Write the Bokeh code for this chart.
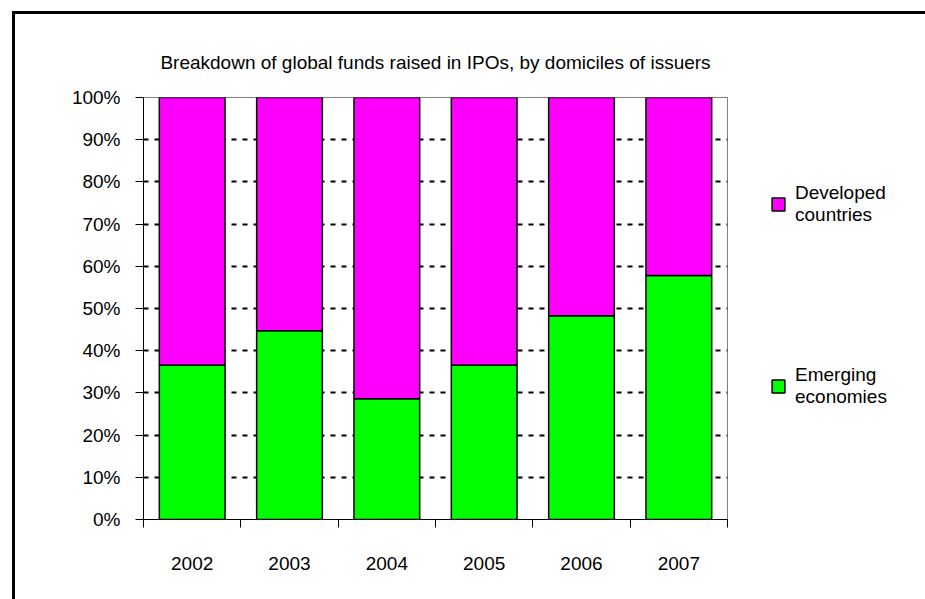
from bokeh.plotting import figure
from bokeh.models import (ColumnDataSource, FixedTicker, NumeralTickFormatter,
                          Legend, LegendItem, Range1d)
from bokeh.embed import file_html
from bokeh.resources import INLINE

# Share of global IPO funds raised, by domicile of issuer
years = ["2002", "2003", "2004", "2005", "2006", "2007"]
emerging = [0.366, 0.447, 0.286, 0.366, 0.483, 0.578]
developed = [0.634, 0.553, 0.714, 0.634, 0.517, 0.422]
yticks = [0.0, 0.1, 0.2, 0.3, 0.4, 0.5, 0.6, 0.7, 0.8, 0.9, 1.0]

FONT = "Liberation Sans"
FSIZE = "19px"

centers = [i + 0.5 for i in range(len(years))]
bounds = list(range(len(years) + 1))

src = ColumnDataSource(data=dict(x=centers, year=years,
                                 emerging=emerging, developed=developed))

# the page frame line sits on the top and left edges of the plot element
p = figure(frame_width=584, frame_height=422,
           x_range=Range1d(0, len(years)), y_range=Range1d(0, 1),
           output_backend="svg", toolbar_location=None,
           min_border_left=128, min_border_right=170,
           min_border_top=83, min_border_bottom=80,
           background_fill_color="white", border_fill_color="white",
           styles={"margin-left": "12px", "margin-top": "11px",
                   "border-left": "3px solid black",
                   "border-top": "3px solid black"})

p.title.text = "Breakdown of global funds raised in IPOs, by domiciles of issuers"
p.title.align = "center"
p.title.text_font = FONT
p.title.text_font_size = FSIZE
p.title.text_font_style = "normal"
p.title.text_color = "black"
p.title.standoff = 49

p.outline_line_color = "#808080"
p.outline_line_width = 1

# dotted horizontal gridlines behind the bars
p.xgrid.visible = False
p.ygrid.grid_line_color = "black"
p.ygrid.grid_line_width = 2
p.ygrid.grid_line_dash = "5 6"

bars = p.vbar_stack(["emerging", "developed"], x="x", width=0.675,
                    color=["#00FF00", "#FF00FF"], line_color="black",
                    line_width=1.5, source=src)

# x axis: year labels centred, tick marks between categories
xa = p.xaxis[0]
xa.ticker = FixedTicker(ticks=centers, minor_ticks=bounds)
xa.major_label_overrides = {c: y for c, y in zip(centers, years)}
xa.major_tick_out = 0
xa.major_tick_in = 0
xa.minor_tick_out = 8
xa.minor_tick_in = 0
xa.minor_tick_line_color = "black"
xa.axis_line_color = "black"
xa.major_label_standoff = 29
xa.major_label_text_font = FONT
xa.major_label_text_font_size = FSIZE
xa.major_label_text_color = "black"

ya = p.yaxis[0]
ya.ticker = FixedTicker(ticks=yticks, minor_ticks=[])
ya.formatter = NumeralTickFormatter(format="0%")
ya.major_tick_out = 8
ya.major_tick_in = 0
ya.major_tick_line_color = "black"
ya.axis_line_color = "black"
ya.major_label_standoff = 15
ya.major_label_text_font = FONT
ya.major_label_text_font_size = FSIZE
ya.major_label_text_color = "black"

legend = Legend(items=[
    LegendItem(label="Developed\ncountries", renderers=[bars[1]]),
    LegendItem(label="Emerging\neconomies", renderers=[bars[0]]),
], location=(43, 111))
legend.glyph_width = 16
legend.glyph_height = 16
legend.label_standoff = 9
legend.padding = 0
legend.margin = 0
legend.spacing = 138
legend.border_line_color = None
legend.background_fill_alpha = 0
legend.label_text_font = FONT
legend.label_text_font_size = FSIZE
legend.label_text_color = "black"
p.add_layout(legend, "right")

open("out.html", "w").write(file_html(p, INLINE))
